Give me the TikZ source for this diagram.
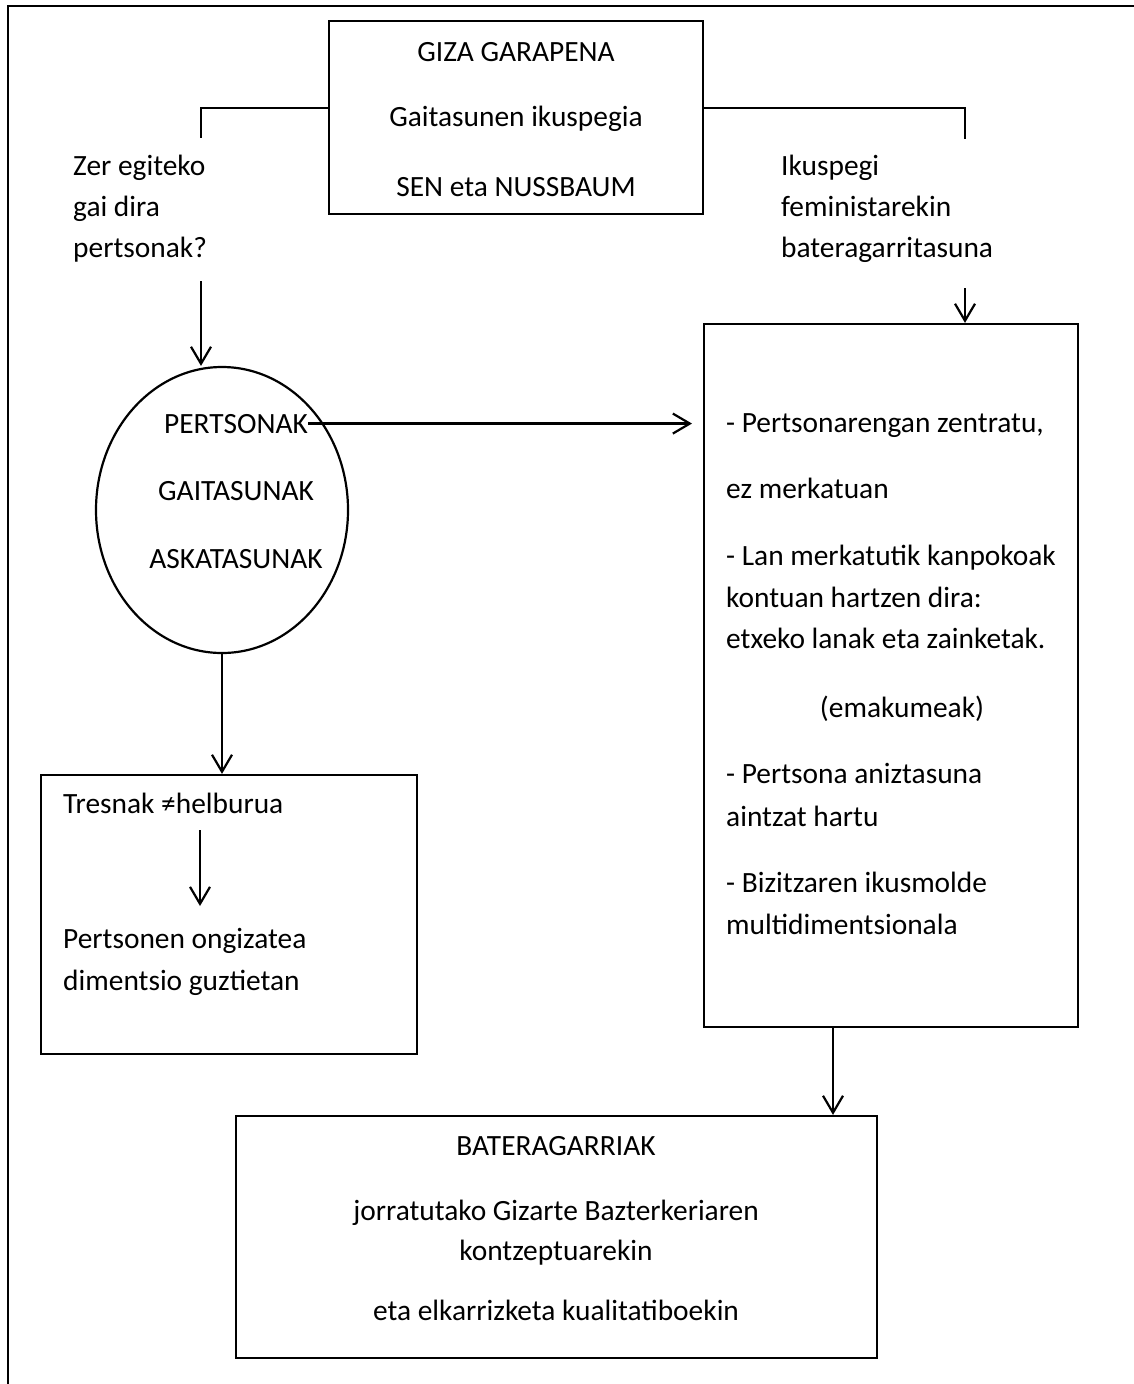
\documentclass[tikz,border=0pt]{standalone}
\usepackage{fontspec}
\setmainfont{Carlito}
\usetikzlibrary{arrows.meta,shapes.geometric}
\tikzset{
  box/.style={draw, line width=2.2pt, rectangle, inner sep=0pt},
  oval/.style={draw, line width=2.2pt, ellipse, inner sep=0pt},
  txt/.style={font=\fontsize{29.4}{34}\selectfont, inner sep=0pt, anchor=base west},
  ctxt/.style={txt, anchor=base},
  ln/.style={line width=2.2pt},
  arr/.style={line width=2.2pt, -{Straight Barb[length=17pt,width=20pt,line width=2.2pt]}}
}
\begin{document}
\begin{tikzpicture}[x=1pt,y=-1pt]
\useasboundingbox (0,0) rectangle (1133,1384);
% outer frame
\coordinate (fa) at (8,1390);
\coordinate (fb) at (8,6);
\coordinate (fc) at (1140,6);
\draw[ln] (fa) -- (fb) -- (fc);

% boxes
\node[box, minimum width=374pt, minimum height=193pt] (top) at (516,117.5) {};
\node[oval, minimum width=252pt, minimum height=286pt] (ell) at (222,510) {};
\node[box, minimum width=376pt, minimum height=279pt] (lbox) at (229,914.5) {};
\node[box, minimum width=374pt, minimum height=703pt] (rbox) at (891,675.5) {};
\node[box, minimum width=641pt, minimum height=242pt] (bbox) at (556.5,1237) {};

% top box text
\node[ctxt] (t1) at (516,61) {GIZA GARAPENA};
\node[ctxt] (t2) at (516,126) {Gaitasunen ikuspegia};
\node[ctxt] (t3) at (516,196) {SEN eta NUSSBAUM};

% side texts
\node[txt] (z1) at (73,175) {Zer egiteko};
\node[txt] (z2) at (73,216) {gai dira};
\node[txt] (z3) at (73,257) {pertsonak?};
\node[txt] (k1) at (781,175) {Ikuspegi};
\node[txt] (k2) at (781,216) {feministarekin};
\node[txt] (k3) at (781,257) {bateragarritasuna};

% ellipse text
\node[ctxt] (pers) at (236,433) {PERTSONAK};
\node[ctxt] (gait) at (236,500) {GAITASUNAK};
\node[ctxt] (aska) at (236,568) {ASKATASUNAK};

% left box text
\node[txt] (tres) at (63,813) {Tresnak ≠helburua};
\node[txt] (pon1) at (63,948) {Pertsonen ongizatea};
\node[txt] (pon2) at (63,990) {dimentsio guztietan};

% right box text
\node[txt] (r1) at (726,432) {- Pertsonarengan zentratu,};
\node[txt] (r2) at (726,498) {ez merkatuan};
\node[txt] (r3) at (726,565) {- Lan merkatutik kanpokoak};
\node[txt] (r4) at (726,607) {kontuan hartzen dira:};
\node[txt] (r5) at (726,648) {etxeko lanak eta zainketak.};
\node[ctxt] (r6) at (902,717) {(emakumeak)};
\node[txt] (r7) at (726,783) {- Pertsona aniztasuna};
\node[txt] (r8) at (726,826) {aintzat hartu};
\node[txt] (r9) at (726,892) {- Bizitzaren ikusmolde};
\node[txt] (r10) at (726,934) {multidimentsionala};

% bottom box text
\node[ctxt] (b1) at (556,1155) {BATERAGARRIAK};
\node[ctxt] (b2) at (556,1220) {jorratutako Gizarte Bazterkeriaren};
\node[ctxt] (b3) at (556,1260) {kontzeptuarekin};
\node[ctxt] (b4) at (556,1320) {eta elkarrizketa kualitatiboekin};

% connectors
\coordinate (tl) at (201,108);
\coordinate (tlend) at (201,138);
\draw[ln] (top.west |- tl) -- (tl) -- (tlend);
\coordinate (tr) at (965,108);
\coordinate (trend) at (965,139);
\draw[ln] (top.east |- tr) -- (tr) -- (trend);

\coordinate (za) at (201,281);
\draw[arr] (za) -- (za |- ell.north);
\coordinate (ra) at (965,288);
\draw[arr] (ra) -- (ra |- rbox.north);

\coordinate (hend) at (692,0);
\draw[arr] (pers.east) -- (pers.east -| hend);

\draw[arr] (ell.south) -- (ell.south |- lbox.north);

\coordinate (ia) at (200,830);
\coordinate (ib) at (200,906);
\draw[arr] (ia) -- (ib);

\coordinate (rb) at (833,0);
\draw[arr] (rbox.south -| rb) -- (bbox.north -| rb);
\end{tikzpicture}
\end{document}
